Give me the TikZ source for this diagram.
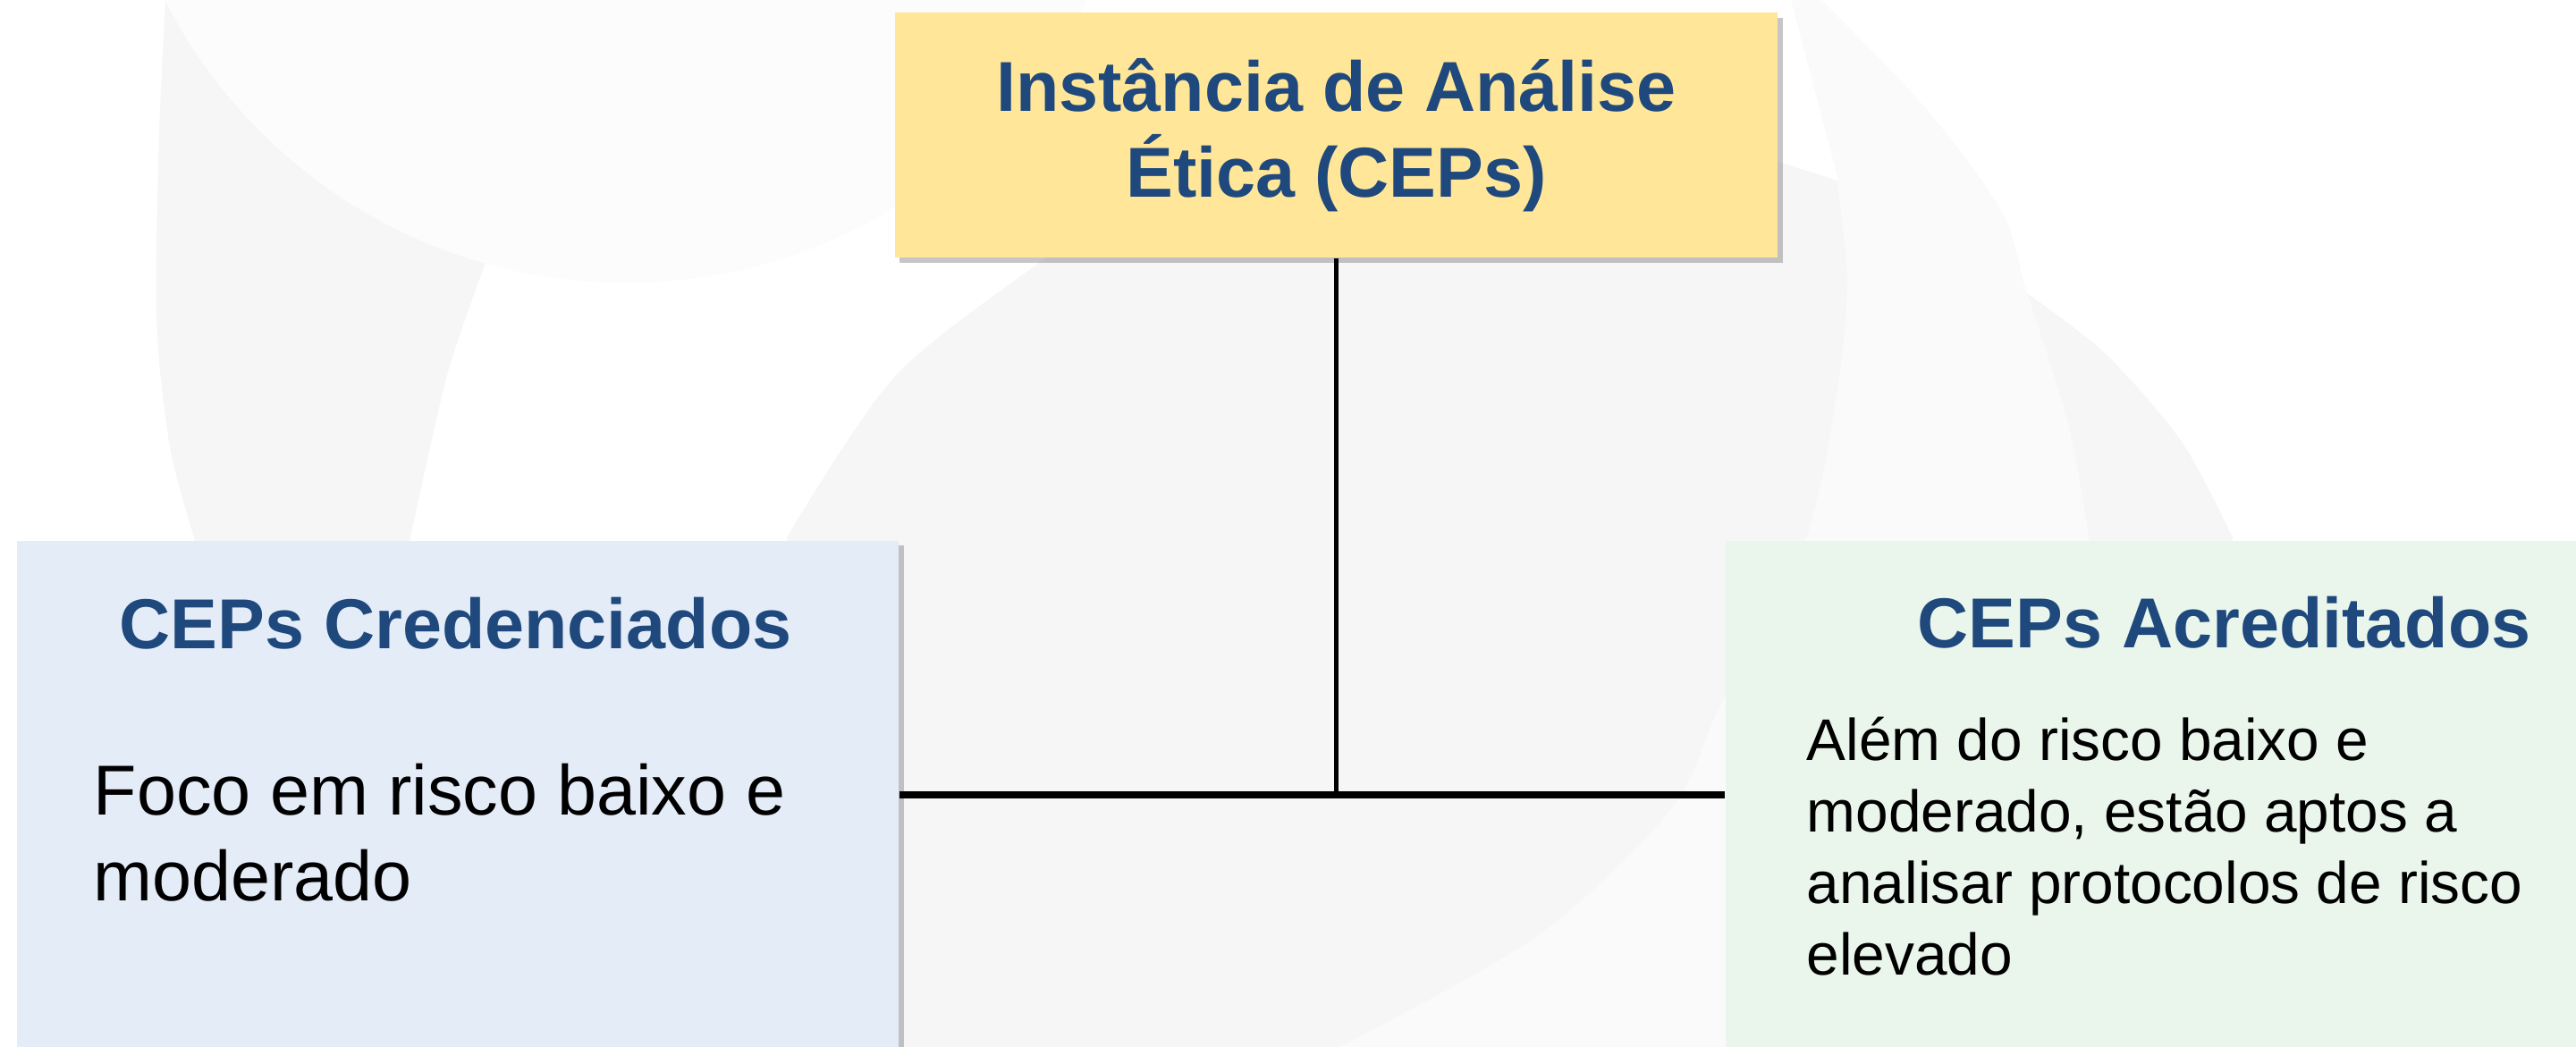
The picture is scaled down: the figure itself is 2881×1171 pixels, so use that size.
\documentclass[tikz,border=0pt]{standalone}
\usepackage{fontspec}
\setmainfont{Liberation Sans}
\usetikzlibrary{shadows}
\definecolor{titleblue}{HTML}{1F497D}
\definecolor{instfill}{HTML}{FFE699}
\definecolor{credfill}{HTML}{E4ECF8}
\definecolor{acredfill}{HTML}{EAF6EC}
\definecolor{wmgray}{HTML}{F6F6F6}
\definecolor{wmlight}{HTML}{FAFAFA}
\definecolor{wmpale}{HTML}{FCFCFC}

\begin{document}
\begin{tikzpicture}[x=0.01cm,y=-0.01cm]
\tikzstyle{box}=[rectangle, inner sep=0pt, draw=none]
\tikzstyle{lift}=[drop shadow={shadow xshift=1.6pt, shadow yshift=-1.6pt, opacity=0.45}]
\tikzstyle{head}=[inner sep=0pt, text=titleblue, font=\fontsize{22.5}{27.3}\selectfont\bfseries]
\tikzstyle{body}=[inner sep=0pt, align=left, font=\fontsize{22.5}{27.3}\selectfont]
\tikzstyle{link}=[line width=1.6pt]
\tikzstyle{joint}=[line width=2.4pt]
	\useasboundingbox (0,0) rectangle (2881,1171);
	\clip (0,0) rectangle (2881,1171);
	% watermark in the background
	\fill[wmlight] (2003,0) -- plot[smooth] coordinates {(2037,0) (2152,119) (2239,237) (2267,328) (2313,474) (2336,601)} -- (2390,1171) -- (1498,1171) -- plot[smooth] coordinates {(1498,1171) (1719,1047) (1869,905) (1923,791) (2020,601) (2055,435) (2066,316) (2055,198)} -- cycle;
	\fill[wmgray] plot[smooth] coordinates {(2267,328) (2354,395) (2440,494) (2497,601)} -- (2497,700) -- (2336,700) -- plot[smooth] coordinates {(2336,601) (2313,474) (2267,328)} -- cycle;
	\fill[wmgray] plot[smooth] coordinates {(185,0) (178,150) (175,356) (190,500) (217,601)} -- (217,650) -- (455,650) -- plot[smooth] coordinates {(459,601) (500,420) (542,297)} -- (600,0) -- cycle;
	\fill[wmpale] (700,-262) circle [radius=5.78cm];
	\fill[wmgray] (900,1171) -- plot[smooth] coordinates {(880,601) (1000,422) (1162,294) (1300,200)} -- (1980,178) -- plot[smooth] coordinates {(2055,202) (2066,316) (2055,435) (2020,601) (1923,791) (1869,905) (1719,1047) (1498,1171)} -- cycle;
	% boxes
	\node[box, fill=instfill, lift, minimum width=9.87cm, minimum height=2.74cm, align=center, text=titleblue, font=\fontsize{22.5}{27.3}\selectfont\bfseries] (inst) at (1494.5,151) {Instância de Análise\\Ética (CEPs)};
	\node[box, fill=credfill, lift, minimum width=9.86cm, minimum height=7cm, anchor=north west] (cred) at (18,604) {};
	\node[box, fill=acredfill, minimum width=10cm, minimum height=7cm, anchor=north west] (acred) at (1929,604) {};
	\node[head, anchor=base west] (credhead) at (133,726) {CEPs Credenciados};
	\node[body, anchor=base west] (credtext) at (104,1008) {Foco em risco baixo e\\moderado};
	\node[head, anchor=base west] (acredhead) at (2144,725) {CEPs Acreditados};
	\node[body, anchor=base west, font=\fontsize{18.7}{22.8}\selectfont] (acredtext) at (2020,1091) {Além do risco baixo e\\moderado, estão aptos a\\analisar protocolos de risco\\elevado};
	% connectors
	\coordinate (mid) at (1494,889);
	\draw[link] (inst.south) -- (inst.south |- mid);
	\draw[joint] (cred.east |- mid) -- (acred.west |- mid);
\end{tikzpicture}
\end{document}
